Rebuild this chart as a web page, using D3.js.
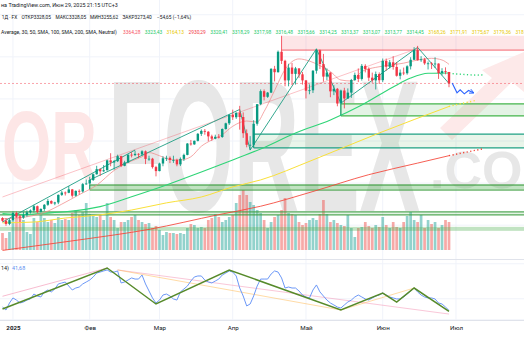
<!DOCTYPE html>
<html>
<head>
<meta charset="utf-8">
<script src="https://cdn.jsdelivr.net/npm/d3@7"></script>
<style>
  html, body { margin: 0; padding: 0; background: #ffffff; overflow: hidden; }
  svg { display: block; font-family: Roboto, "Liberation Sans", sans-serif; }
</style>
</head>
<body>
<svg id="chart" width="524" height="350"></svg>
<script>
// ---- XAUUSD daily bars ----
const dates = [
  "2024-12-27","2024-12-30","2024-12-31",
  "2025-01-02","2025-01-03","2025-01-06","2025-01-07","2025-01-08","2025-01-09","2025-01-10","2025-01-13","2025-01-14","2025-01-15","2025-01-16","2025-01-17","2025-01-20","2025-01-21","2025-01-22","2025-01-23","2025-01-24","2025-01-27","2025-01-28","2025-01-29","2025-01-30","2025-01-31",
  "2025-02-03","2025-02-04","2025-02-05","2025-02-06","2025-02-07","2025-02-10","2025-02-11","2025-02-12","2025-02-13","2025-02-14","2025-02-17","2025-02-18","2025-02-19","2025-02-20","2025-02-21","2025-02-24","2025-02-25","2025-02-26","2025-02-27","2025-02-28",
  "2025-03-03","2025-03-04","2025-03-05","2025-03-06","2025-03-07","2025-03-10","2025-03-11","2025-03-12","2025-03-13","2025-03-14","2025-03-17","2025-03-18","2025-03-19","2025-03-20","2025-03-21","2025-03-24","2025-03-25","2025-03-26","2025-03-27","2025-03-28","2025-03-31",
  "2025-04-01","2025-04-02","2025-04-03","2025-04-04","2025-04-07","2025-04-08","2025-04-09","2025-04-10","2025-04-11","2025-04-14","2025-04-15","2025-04-16","2025-04-17","2025-04-21","2025-04-22","2025-04-23","2025-04-24","2025-04-25","2025-04-28","2025-04-29","2025-04-30",
  "2025-05-01","2025-05-02","2025-05-05","2025-05-06","2025-05-07","2025-05-08","2025-05-09","2025-05-12","2025-05-13","2025-05-14","2025-05-15","2025-05-16","2025-05-19","2025-05-20","2025-05-21","2025-05-22","2025-05-23","2025-05-26","2025-05-27","2025-05-28","2025-05-29","2025-05-30",
  "2025-06-02","2025-06-03","2025-06-04","2025-06-05","2025-06-06","2025-06-09","2025-06-10","2025-06-11","2025-06-12","2025-06-13","2025-06-16","2025-06-17","2025-06-18","2025-06-19","2025-06-20","2025-06-23","2025-06-24","2025-06-25","2025-06-26","2025-06-27"
];
const futureDates = ["2025-06-30","2025-07-01","2025-07-02","2025-07-03","2025-07-04","2025-07-07","2025-07-08","2025-07-09","2025-07-10","2025-07-11"];

const open = [
  2634,2621,2606,
  2624,2658,2640,2636,2648,2661,2670,2690,2663,2677,2697,2715,2703,2708,2744,2755,2754,2770,2740,2763,2760,2795,
  2798,2815,2842,2866,2856,2861,2908,2898,2904,2928,2882,2898,2935,2933,2939,2936,2951,2915,2916,2876,
  2857,2893,2918,2920,2910,2910,2889,2915,2934,2988,2984,3001,3034,3048,3044,3022,3011,3020,3019,3057,3084,
  3124,3113,3134,3114,3037,2982,2982,3082,3175,3237,3210,3230,3343,3327,3424,3381,3288,3349,3319,3345,3317,
  3288,3239,3241,3334,3431,3366,3306,3325,3236,3248,3178,3240,3202,3230,3290,3314,3295,3357,3342,3301,3288,3318,
  3289,3381,3353,3374,3352,3310,3325,3322,3355,3386,3432,3384,3388,3369,3369,3368,3368,3323,3332,3328.05
];
const high = [
  2638,2634,2630,
  2665,2665,2650,2664,2670,2675,2697,2693,2680,2700,2725,2718,2711,2746,2763,2760,2786,2772,2765,2770,2800,2817,
  2830,2845,2882,2870,2886,2911,2942,2910,2935,2930,2906,2936,2947,2954,2942,2956,2955,2930,2920,2882,
  2897,2928,2930,2927,2930,2916,2922,2940,2990,3005,3002,3038,3055,3057,3047,3030,3030,3033,3060,3087,3128,
  3149,3136,3167,3136,3055,3023,3099,3175,3245,3245,3233,3346,3357,3430,3500,3386,3367,3371,3352,3346,3328,
  3290,3269,3337,3438,3435,3414,3345,3327,3265,3252,3244,3253,3250,3295,3325,3345,3366,3365,3350,3325,3330,3326,
  3392,3392,3385,3403,3375,3340,3349,3360,3398,3446,3452,3403,3395,3378,3375,3398,3369,3346,3350,3328.05
];
const low = [
  2616,2597,2600,
  2622,2635,2615,2630,2640,2655,2660,2656,2660,2668,2692,2700,2695,2700,2739,2741,2752,2731,2736,2745,2755,2792,
  2772,2810,2840,2834,2853,2860,2880,2864,2900,2876,2880,2896,2922,2928,2919,2930,2890,2906,2869,2832,
  2856,2880,2905,2895,2896,2880,2881,2905,2932,2978,2982,2998,3024,3030,2999,3001,3008,3012,3015,3054,3076,
  3100,3105,3054,3015,2970,2957,2970,3073,3170,3193,3205,3228,3283,3325,3366,3260,3260,3266,3268,3300,3268,
  3202,3222,3228,3320,3342,3282,3289,3208,3218,3165,3121,3155,3200,3205,3285,3280,3287,3326,3285,3277,3245,3271,
  3280,3334,3345,3339,3306,3293,3313,3315,3340,3385,3382,3376,3362,3340,3342,3347,3295,3312,3317,3255.62
];
const close = [
  2621,2606,2624,
  2658,2640,2636,2648,2661,2670,2690,2663,2677,2697,2715,2703,2708,2744,2755,2754,2770,2740,2763,2760,2795,2798,
  2815,2842,2866,2856,2861,2908,2898,2904,2928,2882,2898,2935,2933,2939,2936,2951,2915,2916,2876,2857,
  2893,2918,2920,2910,2910,2889,2915,2934,2988,2984,3001,3034,3048,3044,3022,3011,3020,3019,3057,3084,3124,
  3113,3134,3114,3037,2982,2982,3082,3175,3237,3210,3230,3343,3327,3424,3381,3288,3349,3319,3345,3317,3288,
  3239,3241,3334,3431,3366,3306,3325,3236,3248,3178,3240,3202,3230,3290,3314,3295,3357,3342,3301,3288,3318,3289,
  3381,3353,3374,3352,3310,3325,3322,3355,3386,3432,3384,3388,3369,3369,3368,3368,3323,3332,3328,3273.40
];
const volume = [
  170,120,180,300,330,350,300,180,160,320,280,350,320,280,300,270,330,300,310,300,370,400,350,380,470,360,350,
  330,350,300,470,330,300,220,280,280,300,330,350,300,280,260,270,220,240,200,150,180,170,170,160,170,160,220,
  260,250,220,230,220,300,320,360,330,280,300,330,350,470,550,600,550,480,450,400,370,300,220,280,330,350,400,
  520,370,360,350,280,250,270,300,320,300,360,500,360,280,300,270,250,240,350,220,130,220,230,280,240,220,250,
  230,330,250,220,280,230,220,280,340,380,300,280,350,220,300,260,280,220,250,300,280
];
const rsi = [
  44.1,42.0,47.0,50.6,49.1,47.0,47.7,49.1,49.9,53.4,52.0,51.3,54.9,56.3,54.9,57.0,60.6,61.3,62.0,59.1,56.3,57.7,58.4,60.6,62.0,63.4,65.6,
  68.4,69.1,69.9,70.6,69.1,69.1,69.9,61.3,62.0,63.4,64.9,64.1,64.1,67.0,60.6,55.6,50.6,47.0,49.1,52.7,53.4,52.0,49.9,49.1,54.9,57.0,59.1,
  62.7,65.6,66.3,66.3,63.4,62.0,61.3,62.7,64.1,67.0,68.4,69.9,69.1,66.3,57.7,52.0,44.9,46.3,52.0,59.1,64.1,64.1,64.1,67.7,69.9,69.1,64.9,
  57.7,58.4,57.7,57.7,55.6,52.7,51.3,50.6,56.3,59.9,54.9,52.0,49.1,47.0,45.6,44.1,43.4,45.6,47.7,49.1,51.3,52.7,51.3,49.9,49.1,50.6,52.0,
  52.7,54.1,52.7,51.3,50.6,49.9,49.9,51.3,53.4,55.6,57.7,54.9,52.7,51.3,50.6,50.6,49.9,47.0,46.3,44.1,41.68
];

// ---- moving averages (sampled points) ----
const smaFastDates = ["2024-12-27","2025-01-08","2025-01-15","2025-01-22","2025-01-29","2025-02-05","2025-02-12","2025-02-19","2025-02-24","2025-02-26","2025-03-03","2025-03-06","2025-03-11","2025-03-14","2025-03-19","2025-03-24","2025-03-27","2025-04-01","2025-04-07","2025-04-10","2025-04-14","2025-04-17","2025-04-23","2025-04-29","2025-05-02","2025-05-07","2025-05-12","2025-05-15","2025-05-20","2025-05-23","2025-05-29","2025-06-04","2025-06-10","2025-06-16","2025-06-20","2025-06-25","2025-06-27"];
const smaFast = [2630,2640,2660,2700,2745,2790,2860,2905,2925,2945,2930,2912,2910,2925,2975,3005,3030,3070,3095,3090,3140,3240,3340,3390,3380,3358,3330,3290,3285,3330,3350,3360,3370,3385,3393,3385,3364.28];
const sma50Dates = ["2024-12-27","2025-01-06","2025-01-15","2025-01-23","2025-02-06","2025-02-19","2025-03-05","2025-03-19","2025-04-01","2025-04-11","2025-04-28","2025-05-12","2025-05-23","2025-06-05","2025-06-12","2025-06-19","2025-06-27"];
const sma50 = [2655,2650,2657,2664,2688,2735,2791,2853,2910,2962,3038,3100,3171,3257,3299,3322,3323.43];
const sma100Dates = ["2024-12-27","2025-01-10","2025-01-23","2025-02-06","2025-02-19","2025-03-05","2025-03-19","2025-04-01","2025-04-11","2025-05-05","2025-05-30","2025-06-27"];
const sma100 = [2611,2615,2634,2649,2672,2706,2734,2782,2815,2910,3038,3164.13];
const sma200Dates = ["2024-12-27","2025-01-02","2025-01-29","2025-02-26","2025-03-26","2025-04-11","2025-05-05","2025-05-27","2025-06-16","2025-06-27"];
const sma200 = [2480,2487,2530,2580,2650,2690,2760,2840,2895,2930.29];
const sma50Next = [3320.41,3318.29,3317.98,3316.48,3315.66,3314.25,3313.37,3313.07,3313.77,3314.45];
const sma100Next = [3168.26,3171.91,3175.67,3179.36,3183.0,3186.6,3190.3,3193.9];
const sma200Next = [2933.5,2937.0,2940.2,2943.9,2947.1,2950.6,2954.0,2957.2,2960.5,2963.8];
const legendValues = ["3364,28","3323,43","3164,13","2930,29","3320,41","3318,29","3317,98","3316,48","3315,66","3314,25","3313,37","3313,07","3313,77","3314,45","3168,26","3171,91","3175,67","3179,36","318"];
const legendKinds  = ["fast","s50","s100","s200","s50","s50","s50","s50","s50","s50","s50","s50","s50","s50","s100","s100","s100","s100","s100"];

// ---- drawings on price ----
const zoneFrom = ["2025-04-22","2025-05-15","2025-04-09","2025-02-03",null,null];
const zoneLow  = [3432,3119,2967,2767,2649,2573];
const zoneHigh = [3500,3176,3033,2791,2663,2592];
const zoneKind = ["red","green","teal","greenBand","greenThin","greenFill"];
const channelDates = ["2024-12-27","2025-06-16"];
const channelPrices = [2734,3440];
const trendADates = ["2024-12-27","2025-02-20"];
const trendAPrices = [2615,2957];
const trendBDates = ["2025-02-03","2025-04-03"];
const trendBPrices = [2815,3150];
const zigzagDates = ["2025-04-03","2025-04-08","2025-05-06","2025-05-15","2025-06-16","2025-06-27"];
const zigzagPrices = [3150,2957,3438,3180,3445,3273.40];
const pathBarsAhead = [0.9,2.3,3.2,4.4,5.6,7.0];
const pathPrices = [3276,3229,3243,3224,3240,3229];

// ---- drawings on RSI ----
const rsiZigDates = ["2024-12-27","2025-02-10","2025-02-28","2025-03-31","2025-05-15","2025-06-02","2025-06-06","2025-06-13","2025-06-27"];
const rsiZigValues = [42.7,72.0,46.3,70.6,42.0,54.1,47.7,57.7,41.0];
const rsiPinkA = [["2024-12-27",51.8],["2025-02-10",72.0]];
const rsiPinkB = [["2025-02-13",70.6],["2025-06-27",39.1]];
const rsiOrangeA = [["2025-02-13",70.6],["2025-05-15",42.0]];
const rsiOrangeB = [["2025-05-15",42.0],["2025-06-13",57.7]];

// ---- axis ----
const tickDates = ["2025-01-02","2025-02-03","2025-03-03","2025-04-01","2025-05-01","2025-06-02","2025-07-01"];
const tickLabels = ["2025","Фев","Мар","Апр","Май","Июн","Июл"];
const priceGrid = [3600,3400,3200,3000,2800,2600];

// ================= drawing =================
const W = 524, H = 350;
const svg = d3.select("#chart");
const defs = svg.append("defs");
defs.append("clipPath").attr("id","mainClip").append("rect").attr("x",0).attr("y",0).attr("width",W).attr("height",259);
defs.append("clipPath").attr("id","rsiClip").append("rect").attr("x",0).attr("y",260).attr("width",W).attr("height",60);
defs.append("marker").attr("id","arrowBlue").attr("viewBox","0 0 10 10").attr("refX",8).attr("refY",5)
  .attr("markerWidth",5).attr("markerHeight",5).attr("orient","auto")
  .append("path").attr("d","M1,1 L9,5 L1,9").attr("fill","none").attr("stroke","#2962ff").attr("stroke-width",1.6);

// time positions: trading days followed by the coming sessions
const axisDates = dates.concat(futureDates);
const idx = new Map(axisDates.map((d,i)=>[d,i]));
const x = d3.scaleLinear().domain([0, dates.length - 1]).range([2.5, 449]);
const xd = d => x(idx.get(d));
const y = d3.scaleLinear().domain([2444, 3499]).range([258, 36]);
const yv = d3.scaleLinear().domain([0, 600]).range([250, 190]);
const yr = d3.scaleLinear().domain([30, 80]).range([326.8, 256.8]);
const lastI = dates.length - 1;

// grid
const grid = svg.append("g");
tickDates.forEach(d => {
  grid.append("line").attr("x1",xd(d)).attr("x2",xd(d)).attr("y1",0).attr("y2",320)
    .attr("stroke","#f0f3fa").attr("stroke-width",1);
});
priceGrid.forEach(p => {
  grid.append("line").attr("x1",0).attr("x2",W).attr("y1",y(p)).attr("y2",y(p))
    .attr("stroke","#f0f3fa").attr("stroke-width",1);
});
[75, 50, 35].forEach(v => {
  grid.append("line").attr("x1",0).attr("x2",W).attr("y1",yr(v)).attr("y2",yr(v))
    .attr("stroke","#f0f3fa").attr("stroke-width",1);
});

// watermark: condensed bold lettering, squeezed horizontally to a target width
const wm = svg.append("g").attr("font-family","Liberation Sans, Arial, sans-serif").attr("font-weight",900);
const squeezed = (txt, x0, base, size, width, color) => {
  const t = wm.append("text").attr("font-size",size).attr("fill",color).text(txt);
  const natural = t.node().getComputedTextLength();
  t.attr("transform",`translate(${x0},${base}) scale(${width / natural},1)`);
};
squeezed("OR", 2, 180, 98, 95, "#fde6e6");
squeezed("FOREX", 108, 211, 188, 312, "#e7e7e7");
wm.append("text").attr("x",430).attr("y",188).attr("font-size",52).attr("fill","#e7e7e7").text(".COM");
wm.append("path").attr("d","M440,128 L492,78 L482,70 L524,52 L524,92 L512,82 L452,140 Z").attr("fill","#fde9e9");

const main = svg.append("g").attr("clip-path","url(#mainClip)");

// volume
main.append("g").selectAll("rect").data(volume).join("rect")
  .attr("x",(d,i)=>x(i)-1.35).attr("width",2.7)
  .attr("y",d=>yv(d)).attr("height",d=>yv(0)-yv(d))
  .attr("fill",(d,i)=> close[i] >= open[i] ? "#26a69a" : "#ef5350")
  .attr("fill-opacity",0.5);

// zones
const zoneStyle = {
  red:       {fill:"#f23645", fo:0.13, stroke:"#f23645", so:0.6, edges:"bottom"},
  green:     {fill:"#4caf50", fo:0.15, stroke:"#43b54a", so:1, edges:"both"},
  teal:      {fill:"#4caf50", fo:0.12, stroke:"#1fa184", so:1, edges:"both"},
  greenBand: {fill:"#4caf50", fo:0.35, stroke:"#43a047", so:0.8, edges:"both"},
  greenThin: {fill:"#4caf50", fo:0.15, stroke:"#43a047", so:0.9, edges:"both"},
  greenFill: {fill:"#4caf50", fo:0.35, stroke:"none", so:0, edges:"none"}
};
zoneLow.forEach((lo, i) => {
  const s = zoneStyle[zoneKind[i]];
  const x0 = zoneFrom[i] ? xd(zoneFrom[i]) : 0;
  const g = main.append("g");
  g.append("rect").attr("x",x0).attr("width",W - x0).attr("y",y(zoneHigh[i])).attr("height",y(lo)-y(zoneHigh[i]))
    .attr("fill",s.fill).attr("fill-opacity",s.fo);
  if (s.edges === "both" || s.edges === "bottom") {
    g.append("line").attr("x1",x0).attr("x2",W).attr("y1",y(lo)).attr("y2",y(lo))
      .attr("stroke",s.stroke).attr("stroke-opacity",s.so).attr("stroke-width",1.3);
  }
  if (s.edges === "both") {
    g.append("line").attr("x1",x0).attr("x2",W).attr("y1",y(zoneHigh[i])).attr("y2",y(zoneHigh[i]))
      .attr("stroke",s.stroke).attr("stroke-opacity",s.so).attr("stroke-width",1.3);
    if (zoneFrom[i]) g.append("line").attr("x1",x0).attr("x2",x0).attr("y1",y(zoneHigh[i])).attr("y2",y(lo))
      .attr("stroke",s.stroke).attr("stroke-opacity",s.so).attr("stroke-width",1);
  }
});

// last price line
main.append("line").attr("x1",0).attr("x2",W).attr("y1",y(close[lastI])).attr("y2",y(close[lastI]))
  .attr("stroke","#f23645").attr("stroke-opacity",0.45).attr("stroke-dasharray","2,2").attr("stroke-width",1);

// moving averages
const maLine = d3.line().x(d=>d[0]).y(d=>y(d[1])).curve(d3.curveMonotoneX);
const drawMA = (ds, vs, color, w, op) => main.append("path")
  .attr("d", maLine(ds.map((d,i)=>[xd(d), vs[i]])))
  .attr("fill","none").attr("stroke",color).attr("stroke-width",w).attr("stroke-opacity",op);
drawMA(sma200Dates, sma200, "#f44336", 1, 0.85);
drawMA(sma100Dates, sma100, "#f9e03a", 1, 1);
drawMA(sma50Dates, sma50, "#2fd577", 1.1, 1);
drawMA(smaFastDates, smaFast, "#f28b8b", 1, 0.75);
const drawNext = (lastDate, lastVal, vals, color) => main.append("path")
  .attr("d", d3.line().x(d=>d[0]).y(d=>y(d[1]))([[xd(lastDate), lastVal]].concat(vals.map((v,i)=>[xd(futureDates[i]), v]))))
  .attr("fill","none").attr("stroke",color).attr("stroke-width",1.4).attr("stroke-dasharray","1.2,2.4");
drawNext("2025-06-27", sma50[sma50.length-1], sma50Next, "#2fd577");
drawNext("2025-06-27", sma100[sma100.length-1], sma100Next, "#f9e03a");
drawNext("2025-06-27", sma200[sma200.length-1], sma200Next, "#f44336");

// trend lines
const seg = (ds, ps, color, w, op) => main.append("path")
  .attr("d", d3.line()(ds.map((d,i)=>[xd(d), y(ps[i])])))
  .attr("fill","none").attr("stroke",color).attr("stroke-width",w).attr("stroke-opacity",op);
seg(channelDates, channelPrices, "#f23645", 1, 0.3);
seg(trendADates, trendAPrices, "#1f9e84", 1, 0.9);
seg(trendBDates, trendBPrices, "#1f9e84", 1, 0.9);
seg(zigzagDates, zigzagPrices, "#1f9e84", 1, 0.9);

// candles
const candles = main.append("g");
dates.forEach((d,i) => {
  const up = close[i] >= open[i];
  const col = up ? "#089981" : "#f23645";
  candles.append("line").attr("x1",x(i)).attr("x2",x(i)).attr("y1",y(high[i])).attr("y2",y(low[i]))
    .attr("stroke",col).attr("stroke-width",0.8);
  const top = y(Math.max(open[i], close[i])), bot = y(Math.min(open[i], close[i]));
  candles.append("rect").attr("x",x(i)-1.2).attr("width",2.4).attr("y",top).attr("height",Math.max(0.8, bot-top))
    .attr("fill",col);
});

// forecast path
main.append("path")
  .attr("d", d3.line()(pathBarsAhead.map((b,i)=>[x(lastI + b), y(pathPrices[i])])))
  .attr("fill","none").attr("stroke","#2962ff").attr("stroke-width",1.1).attr("marker-end","url(#arrowBlue)");

// pane separator
svg.append("line").attr("x1",0).attr("x2",W).attr("y1",259.5).attr("y2",259.5).attr("stroke","#e0e3eb");

// RSI pane
const rp = svg.append("g").attr("clip-path","url(#rsiClip)");
const rl = (pts, color, w, op) => rp.append("path")
  .attr("d", d3.line()(pts.map(p=>[xd(p[0]), yr(p[1])])))
  .attr("fill","none").attr("stroke",color).attr("stroke-width",w).attr("stroke-opacity",op);
rl(rsiPinkA, "#f48fb1", 1, 0.6);
rl(rsiPinkB, "#f48fb1", 1, 0.5);
rl(rsiOrangeA, "#ffb74d", 1, 0.5);
rl(rsiOrangeB, "#ffb74d", 1, 0.5);
rp.append("path").attr("d", d3.line().x((d,i)=>x(i)).y(d=>yr(d))(rsi))
  .attr("fill","none").attr("stroke","#6c98f7").attr("stroke-width",1);
rl(rsiZigDates.map((d,i)=>[d, rsiZigValues[i]]), "#568a2a", 1.5, 1);

// time axis
svg.append("line").attr("x1",0).attr("x2",W).attr("y1",320.5).attr("y2",320.5).attr("stroke","#e0e3eb");
const axis = d3.axisBottom(x).tickValues(tickDates.map(d=>idx.get(d))).tickFormat((d,i)=>tickLabels[i]).tickSize(0).tickPadding(0);
const ag = svg.append("g").attr("transform","translate(0,326)").call(axis);
ag.select(".domain").remove();
ag.selectAll("text").attr("font-size",6.2).attr("fill","#131722").attr("font-family","Roboto, sans-serif")
  .attr("font-weight",(d,i)=> i===0 ? 700 : 400);

// header / legends
const hdr = svg.append("g").attr("font-family","Roboto, sans-serif").attr("fill","#131722");
hdr.append("text").attr("x",1).attr("y",7).attr("font-size",5.4)
  .text("на TradingView.com, Июн 29, 2025 21:15 UTC+3");
const ohlc = [["1Д · FX",1.7],["ОТКР3328,05",21.5],["МАКС3328,05",55.5],["МИН3255,62",90],["ЗАКР3273,40",122.5],["−54,65 (−1,64%)",157]];
const t2 = hdr.append("text").attr("y",18.5).attr("font-size",4.8);
ohlc.forEach(o => t2.append("tspan").attr("x",o[1]).text(o[0]));
hdr.append("text").attr("x",1).attr("y",34).attr("font-size",5.1)
  .text("Average, 30, 50, SMA, 100, SMA, 200, SMA, Neutral)");
const legendColor = {fast:"#f7525f", s50:"#22c96a", s100:"#e8c800", s200:"#f23645"};
const t3 = hdr.append("text").attr("y",34).attr("font-size",4.9);
legendValues.forEach((v,i) => t3.append("tspan").attr("x",123 + 21.8*i).attr("fill",legendColor[legendKinds[i]]).text(v));
const t4 = svg.append("text").attr("y",270).attr("font-size",5.4).attr("font-family","Roboto, sans-serif");
t4.append("tspan").attr("x",1).attr("fill","#131722").text("14)");
t4.append("tspan").attr("x",12).attr("fill","#5b8def").text(rsi[lastI].toFixed(2).replace(".",","));
</script>
</body>
</html>
